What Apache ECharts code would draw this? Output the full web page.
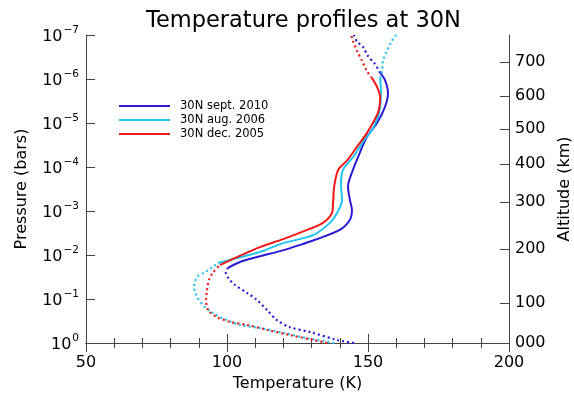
<!DOCTYPE html>
<html>
<head>
<meta charset="utf-8">
<script src="https://cdn.jsdelivr.net/npm/echarts@6/dist/echarts.min.js"></script>
<style>
  html, body { margin: 0; padding: 0; background: #fff; }
  #chart { width: 574px; height: 398px; }
</style>
</head>
<body>
<div id="chart"></div>
<script>
// profiles run from the bottom (1 bar) to the top (1e-7 bar); pressure kept as log10(bars)
const sep2010Temp = [145, 139, 129.4, 122.3, 117.7, 114.2, 110.6, 107.1, 102.8, 100.4, 99.6,
  100.2, 104.6, 111.7, 119.5, 126, 131, 140, 143.6, 144.3, 143.6, 142.9, 143.6, 146.5, 149.6,
  153.2, 156, 157.1, 156, 154.3, 152.5, 150, 148.2, 146, 145];
const sep2010LogP = [0, -0.07, -0.25, -0.36, -0.52, -0.75, -0.98, -1.14, -1.32, -1.48, -1.61,
  -1.70, -1.84, -1.97, -2.10, -2.23, -2.34, -2.57, -2.80, -3.02, -3.25, -3.55, -3.75, -4.23, -4.68,
  -5.0, -5.36, -5.68, -5.98, -6.14, -6.34, -6.52, -6.73, -6.86, -7];
const sep2010Solid = [11, 29];

const aug2006Temp = [138, 128.4, 119.9, 111.7, 104.6, 100, 95, 91.5, 89.4, 88.3, 89.4, 92.2, 95,
  96.8, 103.5, 111.7, 119.9, 130.5, 136.5, 139, 140.8, 140.4, 141.1, 145, 148.5, 151.4, 153.5,
  154.3, 154.6, 154.3, 155, 155.3, 156.7, 158.2, 160];
const aug2006LogP = [0, -0.11, -0.23, -0.34, -0.41, -0.52, -0.68, -0.86, -1.05, -1.27, -1.50, -1.61, -1.73,
  -1.82, -1.93, -2.07, -2.27, -2.45, -2.73, -2.95, -3.25, -3.60, -3.93, -4.25, -4.6, -4.84, -5.14,
  -5.36, -5.70, -6.02, -6.18, -6.41, -6.64, -6.84, -7];
const aug2006Solid = [13, 29];

const dec2005Temp = [135.5, 130.5, 122.3, 114.2, 107.1, 101.1, 96.4, 93.3, 92.6, 92.9, 93.6, 95,
  97.5, 103.5, 111.7, 119.9, 128.4, 134, 137.2, 137.6, 138, 139.4, 142.6, 146, 149.6, 153.5,
  154.3, 153.2, 151.4, 149.6, 147.9, 146.1, 144.7, 144];
const dec2005LogP = [0, -0.07, -0.18, -0.30, -0.41, -0.48, -0.59, -0.75, -0.98, -1.20, -1.43, -1.60,
  -1.77, -1.95, -2.18, -2.36, -2.57, -2.73, -2.95, -3.18, -3.55, -3.93, -4.15, -4.45, -4.77, -5.23,
  -5.59, -5.82, -6.02, -6.18, -6.41, -6.64, -6.86, -7];
const dec2005Solid = [12, 28];

// right-hand altitude scale: label and where it sits on the log10(pressure) scale
const altLabels = ['000', '100', '200', '300', '400', '500', '600', '700'];
const altLogP = [0, -0.91, -2.14, -3.2, -4.07, -4.86, -5.61, -6.39];

const FONT = 'DejaVu Sans';

const profiles = [
  { name: '30N sept. 2010', temp: sep2010Temp, logp: sep2010LogP, solid: sep2010Solid, color: '#2a1ad6' },
  { name: '30N aug. 2006', temp: aug2006Temp, logp: aug2006LogP, solid: aug2006Solid, color: '#1ec4f2' },
  { name: '30N dec. 2005', temp: dec2005Temp, logp: dec2005LogP, solid: dec2005Solid, color: '#f21818' },
];

function pts(p, from, to) {
  const out = [];
  for (let i = from; i <= to; i++) out.push([p.temp[i], p.logp[i]]);
  return out;
}

const series = [];
profiles.forEach((p) => {
  series.push({
    name: p.name, type: 'line', showSymbol: false, symbol: 'none', smooth: 0.3,
    data: pts(p, p.solid[0], p.solid[1]),
    lineStyle: { color: p.color, width: 2 }, itemStyle: { color: p.color }, z: 3,
  });
});
profiles.forEach((p) => {
  const dotted = { type: [2, 3], color: p.color, width: 2.2 };
  series.push({
    name: p.name, type: 'line', showSymbol: false, symbol: 'none', smooth: 0.3,
    data: pts(p, 0, p.solid[0]), lineStyle: dotted, itemStyle: { color: p.color },
  });
  series.push({
    name: p.name, type: 'line', showSymbol: false, symbol: 'none', smooth: 0.3,
    data: pts(p, p.solid[1], p.temp.length - 1), lineStyle: dotted, itemStyle: { color: p.color },
  });
});

const axisLine = { show: true, lineStyle: { color: '#444', width: 1 } };
const xCommon = {
  type: 'value', min: 50, max: 200, interval: 50,
  axisLine: axisLine,
  axisTick: { show: true, inside: true, length: 9, lineStyle: { color: '#444' } },
  minorTick: { show: true, splitNumber: 5, length: 5, lineStyle: { color: '#444' } },
  splitLine: { show: false },
};

const chart = echarts.init(document.getElementById('chart'));
chart.setOption({
  animation: false,
  title: {
    text: 'Temperature profiles at 30N', left: 141, top: 5,
    textStyle: { fontFamily: FONT, fontSize: 22.5, fontWeight: 'normal', color: '#000' },
  },
  legend: {
    orient: 'vertical', left: 114, top: 94, itemWidth: 51, itemHeight: 2, itemGap: 0,
    icon: 'rect',
    textStyle: { fontFamily: FONT, fontSize: 11.5, color: '#000', lineHeight: 14, padding: [0, 0, 0, 5] },
    data: profiles.map((p) => p.name),
  },
  grid: { left: 86, right: 65, top: 35, bottom: 55, outerBoundsMode: 'none' },
  xAxis: [
    Object.assign({}, xCommon, {
      position: 'bottom',
      name: 'Temperature (K)', nameLocation: 'middle', nameGap: 32,
      nameTextStyle: { fontFamily: FONT, fontSize: 16, color: '#000' },
      axisLabel: { fontFamily: FONT, fontSize: 16, color: '#000', margin: 12 },
    }),
    Object.assign({}, xCommon, { position: 'top', axisLabel: { show: false } }),
  ],
  yAxis: [
    {
      type: 'value', min: -7, max: 0, interval: 1, inverse: true, position: 'left',
      name: 'Pressure (bars)', nameLocation: 'middle', nameGap: 56, nameRotate: 90,
      nameTextStyle: { fontFamily: FONT, fontSize: 16, color: '#000' },
      axisLine: axisLine,
      axisTick: { show: true, inside: true, length: 9, lineStyle: { color: '#444' } },
      splitLine: { show: false },
      axisLabel: {
        margin: 7, color: '#000',
        formatter: (v) => '{b|10}{s|' + (v === 0 ? '0' : '\u2212' + (-v)) + '}',
        rich: {
          b: { fontFamily: FONT, fontSize: 16, verticalAlign: 'bottom' },
          s: { fontFamily: FONT, fontSize: 10.5, verticalAlign: 'bottom', padding: [0, 0, 9, 1] },
        },
      },
    },
    {
      type: 'value', min: -7, max: 0, inverse: true, position: 'right',
      name: 'Altitude (km)', nameLocation: 'middle', nameGap: 42, nameRotate: 90,
      nameTextStyle: { fontFamily: FONT, fontSize: 16, color: '#000' },
      axisLine: axisLine,
      axisTick: { show: true, inside: true, length: 9, customValues: altLogP, lineStyle: { color: '#444' } },
      splitLine: { show: false },
      axisLabel: {
        margin: 6, fontFamily: FONT, fontSize: 16, color: '#000',
        customValues: altLogP,
        formatter: (v) => altLabels[altLogP.indexOf(v)],
      },
    },
  ],
  series: series,
});
</script>
</body>
</html>
